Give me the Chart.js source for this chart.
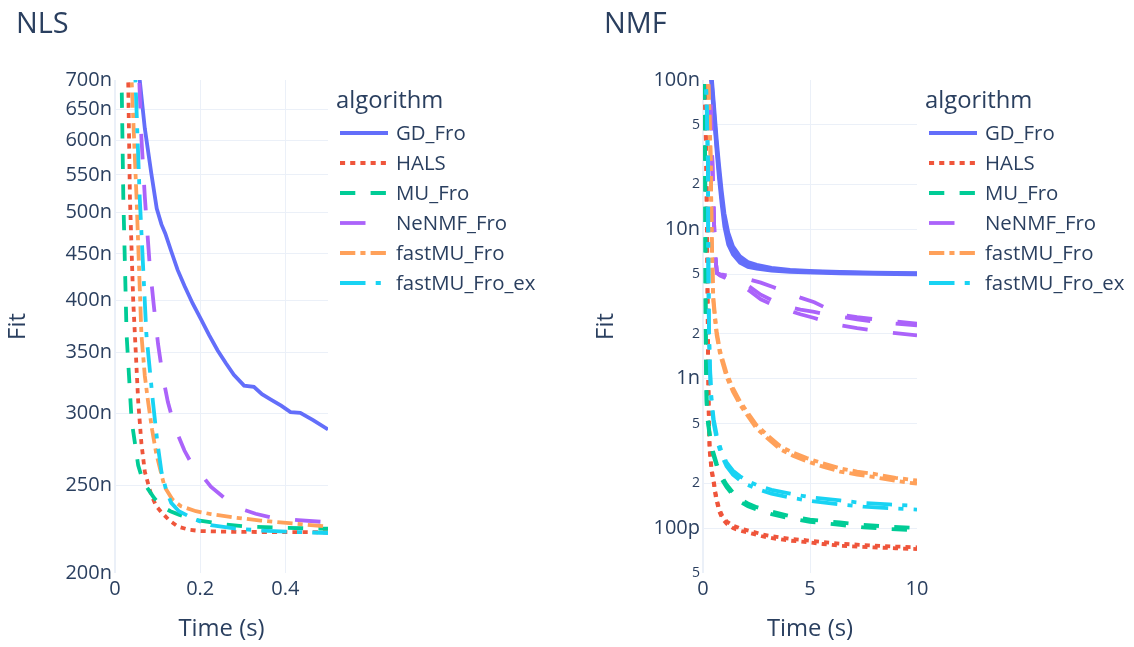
<!DOCTYPE html>
<html>
<head>
<meta charset="utf-8">
<title>NLS / NMF</title>
<script src="https://cdn.jsdelivr.net/npm/chart.js@4.4.1/dist/chart.umd.min.js"></script>
<style>
  html, body { margin: 0; padding: 0; background: #fff; }
  #wrap { position: relative; width: 1134px; height: 647px; }
  #nls { position: absolute; left: 0; top: 0; }
  #nmf { position: absolute; left: 588px; top: 0; }
</style>
</head>
<body>
<div id="wrap">
  <canvas id="nls" width="588" height="647"></canvas>
  <canvas id="nmf" width="546" height="647"></canvas>
</div>
<script>
// all fit values below are in nano-units (1 = 1e-9)
const algorithms = ['GD_Fro', 'HALS', 'MU_Fro', 'NeNMF_Fro', 'fastMU_Fro', 'fastMU_Fro_ex'];
const algoColors = ['#636efa', '#EF553B', '#00cc96', '#ab63fa', '#FFA15A', '#19d3f3'];
const algoDashes = [[], [5.1, 5.1], [15.3, 15.3], [25.5, 25.5], [15.3, 5.1, 5.1, 5.1], [25.5, 10.2, 5.1, 10.2]];
const LINE_W = 3.8;

// ---- NLS ----
const nlsTimeTicks = [0, 0.2, 0.4];
const nlsTimeLabels = ['0', '0.2', '0.4'];
const nlsFitTicks = [200, 250, 300, 350, 400, 450, 500, 550, 600, 650, 700];
const nlsFitLabels = ['200n', '250n', '300n', '350n', '400n', '450n', '500n', '550n', '600n', '650n', '700n'];

const nlsGdTime = [0.04, 0.058, 0.070, 0.085, 0.098, 0.109, 0.118, 0.132, 0.147, 0.163, 0.182, 0.202, 0.221, 0.241, 0.260, 0.279, 0.303, 0.326, 0.345, 0.365, 0.390, 0.412, 0.435, 0.465, 0.5];
const nlsGdFit = [1000, 700, 619, 553, 505, 485, 474, 453, 432, 415, 397, 381, 366, 352, 341, 331, 322, 321, 315, 311, 306, 301, 300.5, 295, 288];

const nlsHalsTime = [0.02, 0.031, 0.035, 0.0427, 0.0545, 0.062, 0.070, 0.085, 0.097, 0.109, 0.128, 0.148, 0.175, 0.2, 0.25, 0.3, 0.4, 0.5];
const nlsHalsFit = [1000, 700, 520, 400, 309, 278, 258.7, 243.8, 237, 233.4, 228.5, 225, 223.2, 222.5, 222.2, 222, 221.9, 221.8];

const nlsMuTime = [0.008, 0.0155, 0.0195, 0.0272, 0.039, 0.0544, 0.065, 0.0777, 0.092, 0.109, 0.13, 0.15, 0.186, 0.25, 0.303, 0.4, 0.5];
const nlsMuFit = [1000, 700, 520, 366.6, 294.7, 263, 253, 247.5, 242, 237, 234, 232, 229, 226.5, 225.2, 224.3, 223.8];

const nlsNenmfTime = [0.045, 0.057, 0.062, 0.070, 0.0815, 0.091, 0.101, 0.112, 0.124, 0.140, 0.163, 0.180, 0.202, 0.225, 0.2485, 0.270, 0.295, 0.330, 0.373, 0.430, 0.5];
const nlsNenmfFit = [900, 700, 604, 520, 437, 395, 358, 330, 309, 290, 273, 264, 257, 249, 243.8, 239, 235.5, 232.5, 230, 228.8, 227.5];

const nlsFastTime = [0.025, 0.039, 0.0505, 0.062, 0.070, 0.0777, 0.087, 0.097, 0.1164, 0.135, 0.155, 0.190, 0.225, 0.280, 0.342, 0.420, 0.5];
const nlsFastFit = [1000, 700, 520, 366.6, 330, 309, 288, 270.7, 249, 241, 237, 234, 232.3, 230.3, 228.5, 226.8, 225];

const nlsFastExTime = [0.035, 0.048, 0.058, 0.0737, 0.089, 0.099, 0.109, 0.120, 0.132, 0.150, 0.171, 0.200, 0.225, 0.280, 0.342, 0.420, 0.5];
const nlsFastExFit = [1000, 700, 520, 366.6, 309, 280, 258.7, 247, 239, 234, 231.3, 228, 225.8, 224, 222.8, 222, 221.4];

// ---- NMF ----
const nmfTimeTicks = [0, 5, 10];
const nmfTimeLabels = ['0', '5', '10'];
const nmfFitTicks = [0.05, 0.1, 0.2, 0.5, 1, 2, 5, 10, 20, 50, 100];
const nmfFitLabels = ['5', '100p', '2', '5', '1n', '2', '5', '10n', '2', '5', '100n'];
const nmfMajorTicks = [0.1, 1, 10, 100];

const nmfGdTime = [0.25, 0.4, 0.52, 0.64, 0.75, 0.87, 1.0, 1.18, 1.4, 1.73, 2.1, 2.51, 3.2, 4.07, 5.2, 6.4, 8.0, 10];
const nmfGdFitA = [150, 100, 60, 36, 24, 16.3, 11.5, 8.6, 7.2, 6.25, 5.8, 5.6, 5.4, 5.28, 5.2, 5.14, 5.09, 5.06];
const nmfGdFitB = [158, 108, 66, 40, 27, 18.3, 12.8, 9.5, 7.7, 6.6, 6.05, 5.78, 5.52, 5.35, 5.25, 5.18, 5.12, 5.09];
const nmfGdFitC = [142, 92, 55, 33, 21.8, 14.8, 10.4, 7.9, 6.8, 5.98, 5.6, 5.45, 5.29, 5.2, 5.13, 5.08, 5.03, 5.0];

const nmfHalsTime = [0.05, 0.15, 0.2, 0.24, 0.27, 0.31, 0.4, 0.5, 0.6, 0.75, 0.9, 1.1, 1.4, 1.73, 2.2, 2.8, 3.29, 4.0, 4.85, 5.6, 6.4, 7.2, 7.94, 9.0, 10];
const nmfHalsFitA = [150, 30, 6, 1.2, 0.55, 0.33, 0.24, 0.2, 0.16, 0.13, 0.116, 0.107, 0.1, 0.096, 0.0925, 0.0878, 0.0852, 0.0825, 0.0804, 0.0782, 0.0762, 0.0752, 0.0743, 0.0732, 0.0723];
const nmfHalsFitB = [150, 32, 6.6, 1.3, 0.6, 0.35, 0.25, 0.208, 0.167, 0.135, 0.121, 0.111, 0.104, 0.0995, 0.0955, 0.0905, 0.0878, 0.085, 0.0828, 0.0805, 0.0785, 0.0774, 0.0764, 0.0752, 0.0743];

const nmfMuTime = [0.02, 0.06, 0.1, 0.12, 0.14, 0.17, 0.22, 0.33, 0.45, 0.64, 0.85, 1.1, 1.4, 1.73, 2.1, 2.51, 3.2, 4.07, 5.0, 6.4, 7.5, 8.7, 10];
const nmfMuFitA = [150, 80, 27.7, 3.3, 1.2, 0.67, 0.52, 0.395, 0.32, 0.259, 0.215, 0.188, 0.166, 0.15, 0.14, 0.133, 0.124, 0.116, 0.11, 0.105, 0.101, 0.0985, 0.0968];
const nmfMuFitB = [150, 84, 29, 3.6, 1.3, 0.71, 0.545, 0.41, 0.334, 0.27, 0.224, 0.196, 0.173, 0.156, 0.146, 0.138, 0.129, 0.12, 0.114, 0.109, 0.105, 0.102, 0.1];

const nmfNenmfTime = [0.3, 0.4, 0.48, 0.56, 0.65, 0.8, 1.0, 1.3, 1.73, 2.2, 2.7, 3.3, 3.9, 4.55, 5.2, 5.8, 6.4, 7.2, 8.0, 9.0, 10];
const nmfNenmfFitA = [150, 42, 16.3, 7.0, 5.1, 5.0, 4.95, 4.9, 4.8, 4.6, 4.4, 4.09, 3.8, 3.49, 3.25, 2.95, 2.68, 2.58, 2.5, 2.42, 2.34];
const nmfNenmfFitB = [150, 42, 16.3, 7.0, 5.1, 4.9, 4.75, 4.55, 4.31, 3.85, 3.4, 3.1, 2.9, 2.7, 2.55, 2.4, 2.28, 2.18, 2.1, 2.02, 1.95];
const nmfNenmfFitC = [150, 42, 16.3, 7.0, 5.1, 4.95, 4.85, 4.7, 4.55, 4.1, 3.65, 3.31, 3.05, 2.9, 2.8, 2.68, 2.6, 2.5, 2.41, 2.34, 2.28];

const nmfFastTime = [0.2, 0.3, 0.36, 0.4, 0.44, 0.48, 0.56, 0.64, 0.8, 1.1, 1.4, 1.73, 2.1, 2.51, 3.0, 3.6, 4.2, 4.85, 5.6, 6.4, 7.2, 7.94, 9.0, 10];
const nmfFastFitA = [150, 60, 27.7, 9.6, 5.2, 3.31, 2.5, 1.95, 1.45, 1.03, 0.82, 0.67, 0.56, 0.463, 0.4, 0.337, 0.305, 0.28, 0.258, 0.239, 0.228, 0.22, 0.207, 0.198];
const nmfFastFitB = [150, 63, 29.5, 10.6, 5.7, 3.55, 2.65, 2.07, 1.53, 1.09, 0.865, 0.705, 0.59, 0.487, 0.42, 0.354, 0.32, 0.294, 0.271, 0.251, 0.239, 0.231, 0.217, 0.208];

const nmfFastExTime = [0.1, 0.18, 0.23, 0.25, 0.28, 0.32, 0.36, 0.4, 0.5, 0.64, 0.85, 1.1, 1.4, 1.73, 2.1, 2.51, 3.2, 4.07, 5.0, 6.4, 7.5, 8.7, 10];
const nmfFastExFitA = [150, 60, 27.7, 5.6, 1.95, 1.2, 0.87, 0.67, 0.5, 0.395, 0.31, 0.259, 0.228, 0.209, 0.194, 0.183, 0.17, 0.16, 0.152, 0.144, 0.139, 0.136, 0.133];
const nmfFastExFitB = [150, 62, 29, 6.2, 2.1, 1.28, 0.93, 0.72, 0.535, 0.42, 0.33, 0.275, 0.242, 0.222, 0.206, 0.194, 0.18, 0.17, 0.161, 0.153, 0.147, 0.144, 0.141];

const nlsRuns = [
    ['GD_Fro', nlsGdTime, nlsGdFit],
    ['HALS', nlsHalsTime, nlsHalsFit],
    ['MU_Fro', nlsMuTime, nlsMuFit],
    ['NeNMF_Fro', nlsNenmfTime, nlsNenmfFit],
    ['fastMU_Fro', nlsFastTime, nlsFastFit],
    ['fastMU_Fro_ex', nlsFastExTime, nlsFastExFit]
];

const nmfRuns = [
    ['GD_Fro', nmfGdTime, nmfGdFitA],
    ['GD_Fro', nmfGdTime, nmfGdFitB],
    ['GD_Fro', nmfGdTime, nmfGdFitC],
    ['HALS', nmfHalsTime, nmfHalsFitA],
    ['HALS', nmfHalsTime, nmfHalsFitB],
    ['MU_Fro', nmfMuTime, nmfMuFitA],
    ['MU_Fro', nmfMuTime, nmfMuFitB],
    ['NeNMF_Fro', nmfNenmfTime, nmfNenmfFitA],
    ['NeNMF_Fro', nmfNenmfTime, nmfNenmfFitB],
    ['NeNMF_Fro', nmfNenmfTime, nmfNenmfFitC],
    ['fastMU_Fro', nmfFastTime, nmfFastFitA],
    ['fastMU_Fro', nmfFastTime, nmfFastFitB],
    ['fastMU_Fro_ex', nmfFastExTime, nmfFastExFitA],
    ['fastMU_Fro_ex', nmfFastExTime, nmfFastExFitB]
];

const FONT = '"Open Sans", verdana, arial, sans-serif';
const TEXT = '#2a3f5f';
const GRID = '#EBF0F8';
Chart.defaults.font.family = FONT;
Chart.defaults.color = TEXT;

// subplot title in the top-left corner
const figTitle = {
    id: 'figTitle',
    afterDraw(chart, args, opts) {
        const ctx = chart.ctx;
        ctx.save();
        ctx.font = '28.9px ' + FONT;
        ctx.fillStyle = TEXT;
        ctx.textBaseline = 'alphabetic';
        ctx.fillText(opts.text, 16, 32.5);
        ctx.restore();
    }
};

// one legend entry per algorithm, no matter how many runs
const algoLegend = {
    id: 'algoLegend',
    afterDraw(chart) {
        const ctx = chart.ctx;
        const x0 = chart.chartArea.right + 8;
        ctx.save();
        ctx.fillStyle = TEXT;
        ctx.textBaseline = 'middle';
        ctx.font = '23.8px ' + FONT;
        ctx.fillText('algorithm', x0, 101);
        ctx.font = '20.4px ' + FONT;
        algorithms.forEach((name, i) => {
            const y = 133 + i * 30;
            ctx.beginPath();
            ctx.setLineDash(algoDashes[i]);
            ctx.lineWidth = LINE_W;
            ctx.strokeStyle = algoColors[i];
            ctx.moveTo(x0 + 4, y);
            ctx.lineTo(x0 + 52, y);
            ctx.stroke();
            ctx.setLineDash([]);
            ctx.fillText(name, x0 + 60, y + 1);
        });
        ctx.restore();
    }
};

function makeDataset(algo, time, fit, order) {
    const i = algorithms.indexOf(algo);
    return {
        label: algo,
        data: time.map((t, k) => ({ x: t, y: fit[k] })),
        borderColor: algoColors[i],
        borderDash: algoDashes[i],
        borderWidth: LINE_W,
        pointRadius: 0,
        tension: 0,
        fill: false,
        order: order
    };
}

function makeChart(id, runs, cfg) {
    const datasets = runs.map(([algo, t, f], i) => makeDataset(algo, t, f, -i));
    return new Chart(document.getElementById(id), {
        type: 'line',
        data: { datasets },
        options: {
            responsive: false,
            animation: false,
            events: [],
            layout: { padding: { top: 80, right: cfg.padRight, bottom: 0, left: 0 } },
            plugins: {
                legend: { display: false },
                tooltip: { enabled: false },
                figTitle: { text: cfg.title }
            },
            scales: {
                x: {
                    type: 'linear',
                    min: cfg.xMin,
                    max: cfg.xMax,
                    afterBuildTicks: s => { s.ticks = cfg.xTicks.map(v => ({ value: v })); },
                    afterFit: s => { s.height = 74; },
                    ticks: {
                        autoSkip: false, maxRotation: 0, padding: 4,
                        font: { size: 20 },
                        callback: (v, i) => cfg.xLabels[i]
                    },
                    grid: {
                        drawTicks: false,
                        color: c => (c.tick && c.tick.value >= cfg.xMax) ? 'rgba(0,0,0,0)' : GRID,
                        lineWidth: c => (c.tick && c.tick.value === 0) ? 2 : 1
                    },
                    border: { display: false },
                    title: { display: true, text: 'Time (s)', font: { size: 23.8 }, padding: { top: 0, bottom: 4 } }
                },
                y: {
                    type: 'logarithmic',
                    min: cfg.yMin,
                    max: cfg.yMax,
                    afterBuildTicks: s => { s.ticks = cfg.yTicks.map(v => ({ value: v })); },
                    afterFit: s => { s.width = 115; },
                    ticks: {
                        autoSkip: false, padding: 3,
                        font: c => ({ size: (c.tick && cfg.isMinor(c.tick.value)) ? 14 : 20 }),
                        callback: (v, i) => cfg.yLabels[i]
                    },
                    grid: {
                        drawTicks: false,
                        color: c => (c.tick && (c.tick.value <= cfg.yMin || c.tick.value >= cfg.yMax)) ? 'rgba(0,0,0,0)' : GRID
                    },
                    border: { display: false },
                    title: { display: true, text: 'Fit', font: { size: 23.8 }, padding: { top: 4, bottom: 0 } }
                }
            }
        },
        plugins: [figTitle, algoLegend]
    });
}

makeChart('nls', nlsRuns, {
    title: 'NLS', padRight: 260,
    xMin: 0, xMax: 0.5, xTicks: nlsTimeTicks, xLabels: nlsTimeLabels,
    yMin: 200, yMax: 700, yTicks: nlsFitTicks, yLabels: nlsFitLabels,
    isMinor: () => false
});

makeChart('nmf', nmfRuns, {
    title: 'NMF', padRight: 217,
    xMin: 0, xMax: 10, xTicks: nmfTimeTicks, xLabels: nmfTimeLabels,
    yMin: 0.05, yMax: 100, yTicks: nmfFitTicks, yLabels: nmfFitLabels,
    isMinor: v => !nmfMajorTicks.includes(v)
});
</script>
</body>
</html>
